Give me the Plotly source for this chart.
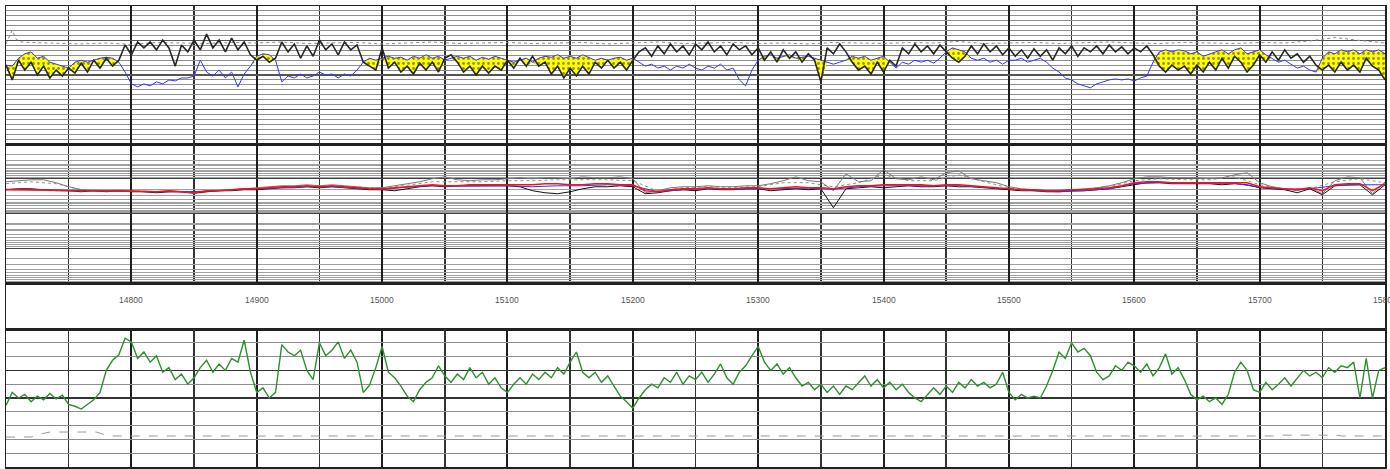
import plotly.graph_objects as go
from plotly.subplots import make_subplots

# ---------------- depth sampling ----------------
depth5 = list(range(14700, 15801, 5))     # 221 samples
depth10 = list(range(14700, 15801, 10))   # 111 samples
depth20 = list(range(14700, 15801, 20))   # 56 samples
depth_labels = list(range(14800, 15801, 100))

# ---------------- track 1 (linear, 0..28) ----------------
trk1_black = [
    16.0, 13.0, 17.0, 15.0, 16.6, 14.0, 15.8, 13.4, 15.0, 13.8,
    15.4, 14.4, 16.4, 14.6, 17.0, 15.4, 17.4, 15.8, 17.0, 20.1,
    18.1, 20.7, 19.5, 20.7, 19.1, 21.1, 19.5, 15.8, 20.1, 18.7,
    21.1, 19.1, 22.3, 19.5, 21.1, 18.7, 21.5, 19.1, 20.7, 18.1,
    17.0, 17.8, 16.6, 17.4, 20.7, 18.7, 20.3, 17.4, 19.9, 17.8,
    21.1, 19.1, 20.3, 18.1, 20.7, 19.1, 20.1, 16.6, 15.8, 15.0,
    19.5, 15.4, 16.6, 14.6, 15.8, 14.2, 16.4, 15.0, 16.6, 14.6,
    17.4, 18.1, 16.6, 14.6, 15.8, 14.0, 15.8, 14.4, 15.8, 15.0,
    17.0, 15.4, 17.4, 15.8, 17.8, 15.8, 16.6, 14.2, 15.8, 13.4,
    15.4, 13.8, 15.8, 14.2, 16.6, 15.4, 17.0, 15.4, 16.6, 15.0,
    17.0, 18.7, 19.5, 17.8, 19.9, 18.3, 20.3, 18.7, 19.9, 18.1,
    20.3, 19.1, 20.7, 18.7, 19.9, 18.1, 20.3, 19.1, 19.9, 18.1,
    19.5, 17.0, 18.7, 16.6, 19.1, 17.4, 18.7, 16.6, 18.3, 17.0,
    12.6, 19.5, 18.3, 20.3, 18.7, 16.6, 15.0, 15.8, 14.2, 16.6,
    14.6, 17.0, 15.8, 19.5, 18.3, 20.3, 18.7, 19.9, 18.3, 20.1,
    18.7, 17.4, 16.6, 17.8, 19.9, 18.3, 20.3, 18.7, 19.9, 18.1,
    19.5, 17.8, 19.1, 17.4, 19.3, 17.8, 19.1, 17.0, 19.5, 18.3,
    19.9, 17.8, 19.5, 18.7, 19.9, 18.3, 20.1, 18.7, 19.7, 18.3,
    19.5, 18.7, 19.9, 18.1, 15.8, 14.6, 16.0, 15.0, 15.8, 14.2,
    16.0, 14.6, 16.6, 15.0, 17.4, 15.4, 17.8, 16.6, 14.6, 16.0,
    18.1, 16.6, 18.7, 17.0, 19.1, 17.4, 18.3, 16.6, 17.8, 16.0,
    15.0, 16.0, 14.6, 16.6, 15.0, 16.0, 14.6, 17.4, 15.8, 15.0,
    13.0,
]
trk1_blue = [
    16.0, 15.8, 17.4, 18.3, 18.7, 17.4, 17.8, 16.6, 16.2, 15.8,
    15.4, 16.6, 17.0, 16.6, 17.0, 17.4, 17.6, 17.4, 16.6, 14.6,
    12.2, 11.6, 12.2, 11.8, 12.6, 12.2, 13.0, 12.8, 13.4, 13.4,
    13.8, 17.0, 14.6, 13.8, 15.0, 13.4, 14.6, 11.6, 14.2, 15.8,
    17.8, 18.3, 18.1, 17.0, 12.6, 13.8, 13.4, 14.2, 13.4, 13.8,
    14.6, 14.0, 14.2, 13.4, 14.2, 13.8, 15.0, 16.6, 17.4, 17.0,
    17.4, 17.8, 17.4, 17.6, 17.0, 17.8, 17.4, 18.1, 17.4, 17.8,
    17.0, 17.4, 17.8, 17.4, 17.8, 17.0, 17.6, 17.2, 17.8, 17.4,
    17.0, 16.6, 17.0, 17.4, 16.6, 17.4, 17.8, 17.6, 18.1, 17.4,
    17.8, 17.4, 18.1, 17.6, 17.0, 17.4, 17.0, 17.4, 17.6, 17.0,
    17.4, 16.6, 15.8, 16.2, 15.4, 15.8, 15.0, 15.8, 15.4, 16.2,
    15.4, 15.0, 15.8, 15.4, 16.2, 15.0, 15.4, 13.0, 11.8, 15.0,
    17.0, 17.8, 18.1, 17.4, 17.8, 18.1, 17.4, 17.6, 17.8, 17.4,
    17.0, 16.6, 16.2, 16.6, 17.0, 17.8, 17.4, 17.8, 17.0, 17.4,
    17.8, 16.6, 15.4, 16.6, 16.2, 17.0, 16.6, 17.0, 16.4, 17.4,
    18.7, 19.5, 19.1, 18.7, 17.4, 17.0, 17.4, 16.6, 17.0, 16.2,
    17.0, 17.0, 17.4, 16.6, 17.0, 17.4, 16.6, 15.4, 14.6, 13.4,
    13.0, 12.2, 11.8, 11.4, 12.2, 12.6, 13.0, 13.2, 13.0, 13.2,
    12.8, 13.4, 13.8, 16.6, 18.7, 19.1, 18.7, 19.1, 18.9, 18.3,
    18.7, 17.8, 18.3, 18.7, 19.1, 18.3, 19.1, 19.5, 18.3, 18.7,
    19.1, 18.1, 17.4, 16.6, 17.0, 16.2, 15.4, 15.8, 15.0, 14.6,
    17.4, 18.7, 18.3, 19.1, 18.7, 19.1, 18.3, 19.1, 18.7, 19.1,
    18.3,
]
trk1_pe_depth = [14700, 14703, 14705, 14708, 14712] + list(range(14720, 15801, 20))
trk1_pe = [
    20.3, 22.1, 23.1, 21.3, 20.7,
    20.6, 20.4, 20.3, 20.5, 20.2, 20.6, 20.5, 20.4, 20.6, 20.5,
    20.7, 20.4, 20.5, 20.6, 20.3, 20.5, 20.7, 20.4, 20.5, 20.6,
    20.4, 20.5, 20.6, 20.3, 20.5, 20.7, 20.4, 20.5, 20.6, 20.4,
    20.5, 20.3, 20.6, 20.5, 20.4, 20.6, 20.5, 20.8, 20.4, 20.5,
    20.6, 20.4, 20.5, 20.7, 20.5, 20.4, 20.6, 20.5, 20.4, 20.6,
    20.5, 20.9, 21.6, 21.0, 20.5,
]

# ---------------- track 2 (log, reversed) ----------------
trk2_red = [
    2.07, 2.07, 2.07, 2.07, 2.14, 2.21, 2.21, 2.21, 2.21, 2.21,
    2.21, 2.29, 2.37, 2.21, 2.37, 2.53, 2.21, 2.21, 2.07, 1.94,
    1.94, 1.82, 1.70, 1.70, 1.59, 1.70, 1.59, 1.70, 1.82, 1.94,
    1.94, 1.82, 1.70, 1.59, 1.49, 1.59, 1.59, 1.49, 1.49, 1.49,
    1.49, 1.49, 1.49, 1.39, 1.39, 1.49, 1.49, 1.39, 1.39, 1.49,
    1.49, 2.21, 2.37, 2.07, 1.94, 1.94, 1.82, 1.94, 1.94, 1.82,
    1.82, 1.94, 1.82, 1.70, 1.82, 1.82, 1.94, 1.70, 1.59, 1.59,
    1.49, 1.49, 1.49, 1.49, 1.59, 1.49, 1.49, 1.59, 1.70, 1.82,
    1.94, 2.07, 2.07, 2.21, 2.21, 2.07, 2.07, 1.94, 1.82, 1.59,
    1.30, 1.22, 1.22, 1.30, 1.30, 1.30, 1.30, 1.30, 1.30, 1.30,
    1.70, 1.82, 1.94, 2.07, 1.82, 2.21, 1.49, 1.39, 1.39, 2.21,
    1.39,
]
trk2_black = [
    2.07, 1.94, 1.94, 2.07, 2.21, 2.21, 2.37, 2.21, 2.37, 2.21,
    2.37, 2.37, 2.53, 2.37, 2.37, 2.53, 2.37, 2.21, 2.21, 2.07,
    2.07, 1.94, 1.82, 1.82, 1.70, 1.82, 1.70, 1.82, 1.94, 2.07,
    2.07, 2.21, 1.94, 1.70, 1.59, 1.70, 1.59, 1.59, 1.59, 1.59,
    1.59, 1.70, 2.21, 2.53, 2.70, 2.37, 1.94, 1.70, 1.70, 1.59,
    1.70, 2.70, 2.53, 2.21, 2.07, 2.21, 1.94, 2.07, 2.07, 1.94,
    1.94, 2.21, 2.07, 1.94, 2.07, 1.94, 6.83, 1.94, 1.82, 1.70,
    1.82, 1.70, 1.59, 1.70, 1.70, 1.59, 1.70, 1.70, 1.82, 1.94,
    2.07, 2.21, 2.21, 2.37, 2.37, 2.21, 2.21, 2.07, 1.94, 1.70,
    1.49, 1.30, 1.30, 1.39, 1.39, 1.39, 1.39, 1.49, 1.39, 1.49,
    1.82, 1.94, 2.07, 2.53, 1.94, 2.89, 1.59, 1.49, 1.49, 2.89,
    1.49,
]
trk2_blue = [
    2.00, 2.07, 2.14, 2.21, 2.21, 2.29, 2.37, 2.37, 2.29, 2.07,
    1.94, 1.82, 1.70, 1.70, 1.88, 2.00, 1.76, 1.59, 1.64, 1.59,
    1.59, 1.70, 1.59, 1.59, 1.49, 1.59, 2.37, 2.07, 1.94, 2.00,
    1.94, 1.94, 1.88, 2.00, 1.70, 1.59, 1.59, 1.64, 1.59, 1.76,
    2.00, 2.21, 2.37, 2.21, 1.94, 1.39, 1.30, 1.35, 1.35, 1.35,
    1.76, 2.00, 1.94, 1.59, 1.49, 1.49,
]
trk2_gray = [
    1.22, 1.14, 1.07, 1.07, 1.30, 1.70, 2.07, 2.21, 2.21, 2.21,
    2.21, 2.37, 2.37, 2.21, 2.37, 2.70, 2.37, 2.21, 2.07, 1.94,
    1.82, 1.70, 1.59, 1.59, 1.49, 1.59, 1.49, 1.59, 1.70, 1.82,
    1.82, 1.59, 1.39, 1.22, 1.00, 0.88, 1.07, 1.14, 1.07, 1.07,
    1.00, 0.94, 1.00, 0.94, 0.94, 1.00, 0.88, 0.94, 0.94, 0.88,
    1.00, 2.53, 2.21, 1.82, 1.70, 1.70, 1.59, 1.70, 1.70, 1.59,
    1.59, 1.39, 1.14, 0.88, 1.14, 1.22, 2.21, 0.72, 1.22, 1.14,
    0.55, 1.00, 1.07, 0.88, 1.07, 0.67, 0.59, 1.00, 1.14, 1.30,
    1.70, 1.94, 2.07, 2.21, 2.21, 2.07, 1.94, 1.82, 1.59, 1.30,
    1.00, 0.88, 0.88, 0.94, 0.94, 0.94, 1.00, 0.94, 0.77, 0.67,
    1.30, 1.70, 1.94, 2.21, 1.82, 2.70, 1.14, 0.88, 0.94, 2.70,
    1.22,
]
trk2_gray_dot = [
    1.39, 1.22, 1.39, 2.07, 2.21, 2.21, 2.37, 2.37, 2.29, 2.07,
    1.88, 1.70, 1.59, 1.59, 1.76, 1.88, 1.54, 1.22, 1.22, 1.22,
    1.14, 1.14, 1.07, 1.07, 1.07, 1.14, 2.29, 1.82, 1.70, 1.76,
    1.70, 1.30, 1.30, 1.70, 1.30, 0.77, 1.14, 1.14, 0.77, 1.22,
    1.82, 2.14, 2.29, 2.00, 1.70, 1.14, 1.00, 1.07, 1.07, 0.88,
    1.49, 2.00, 1.94, 1.22, 1.00, 1.30,
]

# ---------------- track 4 (linear 0..150) ----------------
trk4_green = [
    67, 81, 75, 79, 71, 77, 73, 80, 74, 78,
    68, 66, 63, 68, 73, 81, 105, 116, 122, 140,
    136, 118, 125, 114, 121, 103, 108, 95, 101, 90,
    97, 108, 116, 103, 112, 105, 118, 114, 138, 103,
    81, 86, 75, 81, 133, 125, 121, 127, 105, 95,
    135, 121, 127, 136, 118, 127, 114, 81, 89, 108,
    131, 103, 97, 88, 77, 71, 84, 92, 97, 110,
    99, 92, 101, 95, 108, 97, 103, 90, 97, 86,
    81, 90, 97, 90, 101, 95, 103, 97, 108, 101,
    114, 125, 103, 97, 103, 92, 99, 88, 77, 71,
    64, 75, 84, 90, 86, 97, 92, 103, 90, 99,
    95, 103, 92, 101, 112, 97, 90, 103, 110, 121,
    131, 114, 105, 112, 101, 108, 97, 88, 92, 84,
    90, 81, 88, 79, 88, 84, 92, 99, 88, 95,
    86, 92, 84, 90, 81, 75, 71, 79, 86, 79,
    88, 81, 92, 86, 95, 88, 92, 86, 90, 103,
    81, 73, 79, 75, 77, 75, 88, 105, 125, 118,
    135, 125, 129, 121, 103, 95, 99, 110, 105, 114,
    110, 103, 112, 99, 108, 123, 101, 108, 95, 79,
    73, 77, 71, 75, 68, 79, 103, 114, 105, 84,
    81, 92, 84, 90, 97, 88, 97, 105, 99, 103,
    97, 108, 103, 110, 108, 114, 75, 118, 75, 105,
    108,
]
trk4_bit_depth = [14700, 14720, 14728, 14735, 14772, 14777, 14782, 15710, 15718, 15760, 15766, 15800]
trk4_bit = [32.6, 32.6, 36.0, 38.0, 38.0, 36.0, 33.7, 33.7, 34.6, 34.6, 33.7, 33.7]

# crossover shading lower edge (black below blue)
cross_lower = [min(a, b) for a, b in zip(trk1_black, trk1_blue)]

# ---------------- figure ----------------
H = 461.0
fig = make_subplots(rows=4, cols=1, shared_xaxes=True, vertical_spacing=0,
                    row_heights=[138 / H, 139 / H, 46 / H, 138 / H])

# track 1
fig.add_trace(go.Scatter(x=trk1_pe_depth, y=trk1_pe, mode="lines",
                         line=dict(color="#8a8a8a", width=1, dash="dot")), row=1, col=1)
fig.add_trace(go.Scatter(x=depth5, y=trk1_blue, mode="lines",
                         line=dict(color="rgba(0,0,0,0)", width=0)), row=1, col=1)
fig.add_trace(go.Scatter(x=depth5, y=cross_lower, mode="lines", fill="tonexty",
                         fillcolor="#ffff00",
                         fillpattern=dict(shape=".", bgcolor="#ffff00", fgcolor="#222222",
                                          size=5, solidity=0.25),
                         line=dict(color="rgba(0,0,0,0)", width=0)), row=1, col=1)
fig.add_trace(go.Scatter(x=depth5, y=trk1_blue, mode="lines",
                         line=dict(color="#3535ff", width=1)), row=1, col=1)
fig.add_trace(go.Scatter(x=depth5, y=trk1_black, mode="lines",
                         line=dict(color="#262626", width=1.6)), row=1, col=1)

# track 2
fig.add_trace(go.Scatter(x=depth20, y=trk2_gray_dot, mode="lines",
                         line=dict(color="#8f8f8f", width=1, dash="dot")), row=2, col=1)
fig.add_trace(go.Scatter(x=depth10, y=trk2_gray, mode="lines",
                         line=dict(color="#7a7a7a", width=1)), row=2, col=1)
fig.add_trace(go.Scatter(x=depth10, y=trk2_black, mode="lines",
                         line=dict(color="#111111", width=1)), row=2, col=1)
fig.add_trace(go.Scatter(x=depth20, y=trk2_blue, mode="lines",
                         line=dict(color="#3030ff", width=1)), row=2, col=1)
fig.add_trace(go.Scatter(x=depth10, y=trk2_red, mode="lines",
                         line=dict(color="#ff1010", width=1.4)), row=2, col=1)

# track 4
fig.add_trace(go.Scatter(x=trk4_bit_depth, y=trk4_bit, mode="lines",
                         line=dict(color="#9a9a9a", width=1, dash="dash")), row=4, col=1)
fig.add_trace(go.Scatter(x=depth5, y=trk4_green, mode="lines",
                         line=dict(color="#2e8f2e", width=1.4)), row=4, col=1)

# depth labels in the depth track
for d in depth_labels:
    fig.add_annotation(x=d, y=0.63, xref="x3", yref="y3 domain", text=str(d),
                       showarrow=False, font=dict(family="Liberation Sans", size=8.5, color="#555555"))

border = dict(showline=True, mirror=True, linecolor="#222222", linewidth=1.5)
xgrid = dict(range=[14700, 15800], showticklabels=False, ticks="", zeroline=False,
             showgrid=True, dtick=100, tick0=14700, gridcolor="#1e1e1e", gridwidth=2,
             minor=dict(dtick=50, tick0=14700, showgrid=True, gridcolor="#333333", gridwidth=1.5),
             **border)
fig.update_xaxes(**xgrid)
fig.update_xaxes(showgrid=False, minor=dict(showgrid=False), row=3, col=1)

fig.update_yaxes(range=[0, 28], dtick=7, tick0=0, showgrid=True, gridcolor="#555555", gridwidth=1.4,
                 minor=dict(dtick=1, showgrid=True, gridcolor="#8e8e8e", gridwidth=1),
                 showticklabels=False, ticks="", zeroline=False, row=1, col=1, **border)
fig.update_yaxes(type="log", range=[3, -1], dtick=1, showgrid=True, gridcolor="#444444", gridwidth=1.4,
                 minor=dict(dtick="D1", showgrid=True, gridcolor="#a0a0a0", gridwidth=1.2),
                 showticklabels=False, ticks="", zeroline=False, row=2, col=1, **border)
fig.update_yaxes(range=[0, 1], showgrid=False, showticklabels=False, ticks="", zeroline=False,
                 row=3, col=1, **border)
fig.update_yaxes(range=[0, 150], dtick=15, tick0=0, showgrid=True, gridcolor="#8e8e8e", gridwidth=1.2,
                 showticklabels=False, ticks="", zeroline=False, row=4, col=1, **border)

# darker reference lines of the lower track (overlay axis with its own grid)
fig.update_layout(yaxis5=dict(overlaying="y4", range=[0, 150], tickvals=[75, 105],
                              showgrid=True, gridcolor="#333333", gridwidth=1.2,
                              showticklabels=False, ticks="", zeroline=False, showline=False))
fig.add_trace(go.Scatter(x=[None], y=[None], xaxis="x4", yaxis="y5", showlegend=False))
fig.data = (fig.data[-1],) + fig.data[:-1]

fig.update_layout(width=1390, height=469, margin=dict(l=6, r=5, t=6, b=2),
                  paper_bgcolor="white", plot_bgcolor="white", showlegend=False,
                  hovermode=False)

fig.write_html("out.html", config={"displayModeBar": False, "staticPlot": True},
               post_script="document.body.style.margin='0';document.body.style.overflow='hidden';")
